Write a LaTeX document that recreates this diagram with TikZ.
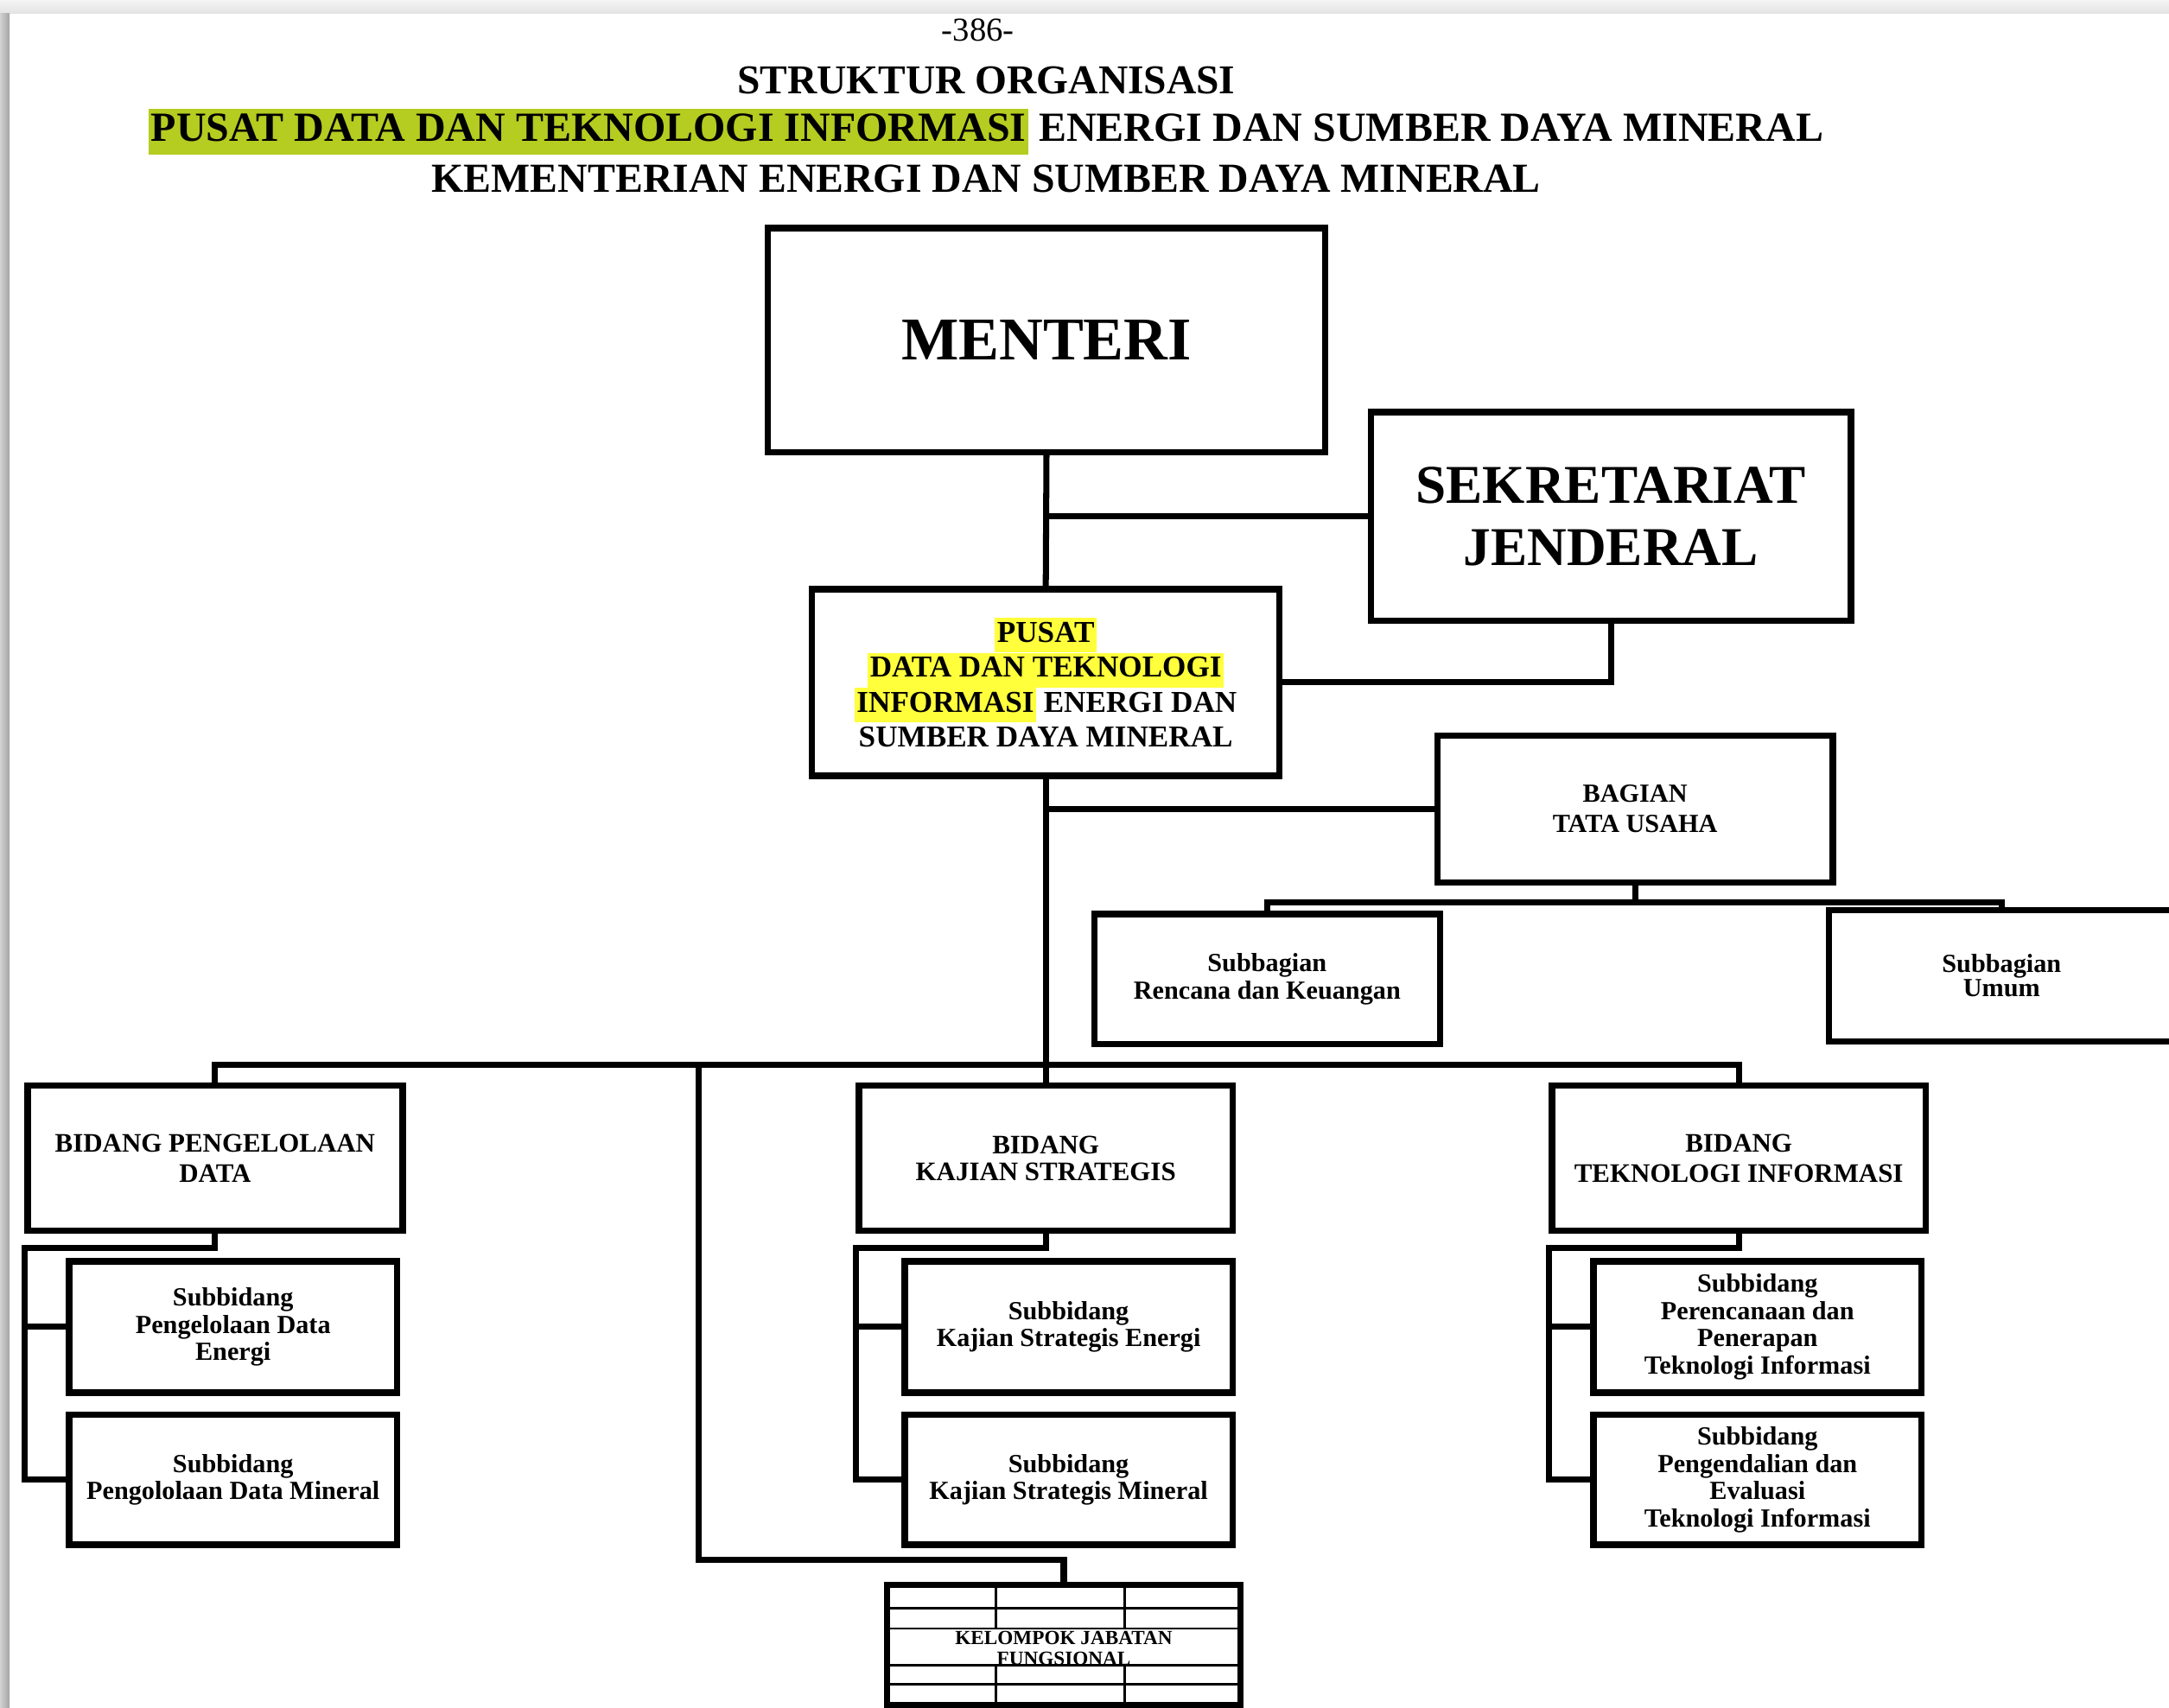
\documentclass[tikz,border=0pt]{standalone}
\usepackage{fontspec}
\setmainfont{Liberation Serif}
\usetikzlibrary{calc}

\definecolor{hlgreen}{RGB}{181,204,32}
\definecolor{hlyellow}{RGB}{255,255,60}

% one drawing unit (the picture is laid out on a 1568 x 1235 grid)
\def\pxu{0.016008cm}
\newcommand{\fs}[2]{\fontsize{#1}{#2}\selectfont}
\newcommand{\hlbox}[2]{{\setlength{\fboxsep}{0.7pt}\colorbox{#1}{\rule[-0.27em]{0pt}{1.0em}#2}}}
% \orgbox{name}{x1}{y1}{x2}{y2}{font}{text}
\newcommand{\orgbox}[7]{%
  \node[orgnode, font={#6}, minimum width={(#4-#2)*\pxu}, minimum height={(#5-#3)*\pxu}]
    (#1) at ({(#2+#4)/2},{(#3+#5)/2}) {#7};}

\tikzset{
  orgnode/.style={draw, line width=2.1pt, fill=white, inner sep=0pt, align=center},
  conn/.style={line width=2pt},
  gridline/.style={line width=0.8pt},
  label/.style={inner sep=0pt, align=center},
}

\begin{document}
\begin{tikzpicture}[x=0.016008cm, y=-0.016008cm]
\clip (0,0) rectangle (1568,1235);

% page and its shadowed edges
\fill[white] (0,0) rectangle (1568,1235);
\shade[top color=black!4, bottom color=black!11] (0,0) rectangle (1568,9.5);
\shade[left color=black!18, right color=black!36] (0,9.5) rectangle (7,1235);

% heading
\node[label, font=\fs{11}{13}] (page) at (707,22) {-386-};
\node[label, font=\fs{13.5}{15}\bfseries] (t1) at (713,58) {STRUKTUR ORGANISASI};
\node[label, font=\fs{13.65}{15}\bfseries] (t2) at (713,95.5)
  {\hlbox{hlgreen}{PUSAT DATA DAN TEKNOLOGI INFORMASI} ENERGI DAN SUMBER DAYA MINERAL};
\node[label, font=\fs{13.6}{15}\bfseries] (t3) at (713,129) {KEMENTERIAN ENERGI DAN SUMBER DAYA MINERAL};

% boxes
\orgbox{menteri}{555}{165}{958}{327}{\fs{20}{22}\bfseries}{MENTERI}
\orgbox{sekjen}{991}{298}{1338}{449}{\fs{18}{20.5}\bfseries}{SEKRETARIAT\\JENDERAL}
\orgbox{pusat}{587}{426}{925}{561}{\fs{10}{11.5}\bfseries}%
  {\hlbox{hlyellow}{PUSAT}\\\hlbox{hlyellow}{DATA DAN TEKNOLOGI}\\\hlbox{hlyellow}{INFORMASI} ENERGI DAN\\SUMBER DAYA MINERAL}
\orgbox{bagian}{1039}{532}{1325}{638}{\fs{8.6}{10}\bfseries}{BAGIAN\\TATA USAHA}
\orgbox{subrk}{791}{661}{1041}{755}{\fs{8.6}{7.8}\bfseries}{Subbagian\\Rencana dan Keuangan}
\orgbox{subum}{1322}{658}{1572}{753}{\fs{8.6}{7.8}\bfseries}{Subbagian\\Umum}

\orgbox{bpd}{20}{785}{291}{890}{\fs{8.8}{10}\bfseries}{BIDANG PENGELOLAAN\\DATA}
\orgbox{bpda}{50}{912}{287}{1007}{\fs{8.6}{9}\bfseries}{Subbidang\\Pengelolaan Data\\Energi}
\orgbox{bpdb}{50}{1023}{287}{1117}{\fs{8.6}{9}\bfseries}{Subbidang\\Pengololaan Data Mineral}

\orgbox{bks}{621}{785}{891}{890}{\fs{8.8}{8.8}\bfseries}{BIDANG\\KAJIAN STRATEGIS}
\orgbox{bksa}{654}{912}{891}{1007}{\fs{8.6}{9}\bfseries}{Subbidang\\Kajian Strategis Energi}
\orgbox{bksb}{654}{1023}{891}{1117}{\fs{8.6}{9}\bfseries}{Subbidang\\Kajian Strategis Mineral}

\orgbox{bti}{1122}{785}{1392}{890}{\fs{8.8}{10}\bfseries}{BIDANG\\TEKNOLOGI INFORMASI}
\orgbox{btia}{1152}{912}{1389}{1007}{\fs{8.6}{9}\bfseries}{Subbidang\\Perencanaan dan\\Penerapan\\Teknologi Informasi}
\orgbox{btib}{1152}{1023}{1389}{1117}{\fs{8.6}{9}\bfseries}{Subbidang\\Pengendalian dan\\Evaluasi\\Teknologi Informasi}

% functional group: framed grid with its caption
\node[draw, line width=2pt, fill=white, inner sep=0pt, minimum width={256*\pxu}, minimum height={87*\pxu}]
  (kjf) at (769,1189.5) {};
\draw[gridline] (641,1163) -- (897,1163);
\draw[gridline] (641,1177.5) -- (897,1177.5);
\draw[gridline] (641,1204) -- (897,1204);
\draw[gridline] (641,1218) -- (897,1218);
\draw[gridline] (720,1146) -- (720,1177.5) (720,1204) -- (720,1233);
\draw[gridline] (813,1146) -- (813,1177.5) (813,1204) -- (813,1233);
\node[label, font=\fs{6.6}{6.8}\bfseries] (kjftext) at (769,1192) {KELOMPOK JABATAN\\FUNGSIONAL};

% connectors
\draw[conn] (menteri.south) -- (pusat.north);
\draw[conn] (menteri.south |- sekjen.west) -- (sekjen.west);
\draw[conn] (sekjen.south) |- (pusat.east);
\draw[conn] (pusat.south) -- (bks.north);
\draw[conn] (pusat.south |- bagian.west) -- (bagian.west);

\coordinate (tu) at ($(bagian.south)+(0,12)$);
\draw[conn] (bagian.south) -- (tu);
\draw[conn] (subrk.north) |- (tu) -| (subum.north);

\coordinate (bar) at (756,770);
\draw[conn] (bpd.north) |- (bar) -| (bti.north);

\coordinate (fj) at (505,770);
\coordinate (fjk) at ($(kjf.north)+(0,-16)$);
\draw[conn] (fj) |- (fjk) -- (kjf.north);

% sub-units under each division
\foreach \b/\s/\t in {bpd/bpda/bpdb, bks/bksa/bksb, bti/btia/btib}{
  \draw[conn] (\b.south) -- ++(0,10) -| (\b.west |- \t.west) -- (\t.west);
  \draw[conn] (\b.west |- \s.west) -- (\s.west);
}
\end{tikzpicture}
\end{document}
